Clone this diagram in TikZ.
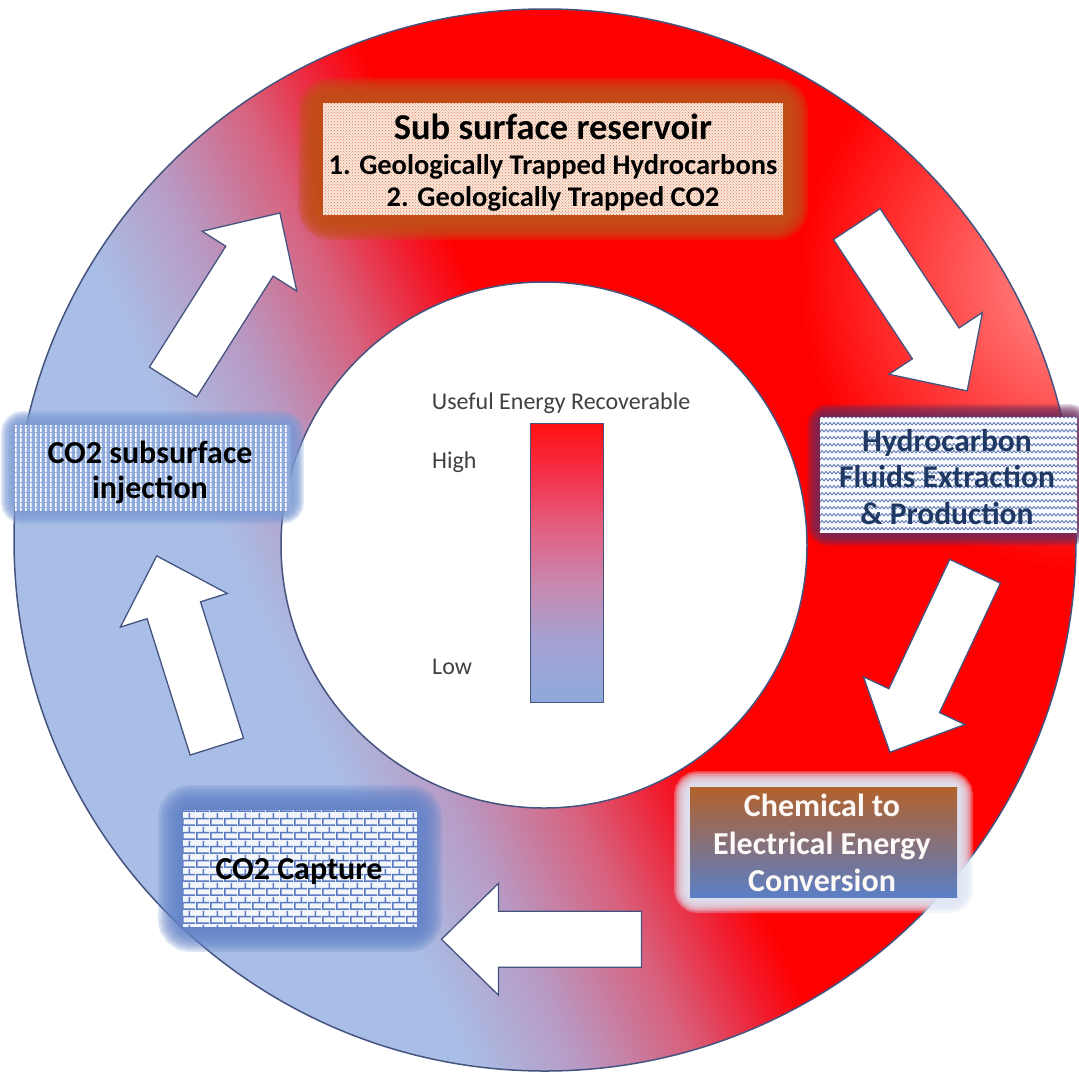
\documentclass[tikz,border=0pt]{standalone}
\usepackage{fontspec}
\setmainfont{Carlito}
\usetikzlibrary{patterns,fadings}

\definecolor{rblue}{HTML}{A9BEE6}
\definecolor{rpurple}{HTML}{B89AC4}
\definecolor{rpink}{HTML}{D8607C}
\definecolor{rred}{HTML}{F21A2C}
\definecolor{edgecol}{HTML}{45547F}
\definecolor{orgglow}{HTML}{C24E18}
\definecolor{peach}{HTML}{F9E6DA}
\definecolor{peachdot}{HTML}{DF7C52}
\definecolor{bglow}{HTML}{7D9BD5}
\definecolor{bfill}{HTML}{8EAADD}
\definecolor{mauve}{HTML}{6A2C5C}
\definecolor{wavecol}{HTML}{5673B2}
\definecolor{navy}{HTML}{1F3864}
\definecolor{lglow}{HTML}{DFE7F5}
\definecolor{brown}{HTML}{B3612B}
\definecolor{steel}{HTML}{5B7FC6}
\definecolor{bricklow}{HTML}{6282C8}
\definecolor{mortar}{HTML}{5A7BC4}
\definecolor{legtext}{HTML}{404040}
\definecolor{barA}{HTML}{8FA9DC}
\definecolor{barB}{HTML}{A4A2D2}
\definecolor{barC}{HTML}{C888B0}
\definecolor{barD}{HTML}{E26080}
\definecolor{barE}{HTML}{F43048}
\definecolor{barF}{HTML}{FF1010}

\pgfdeclarehorizontalshading{ringshade}{100bp}{color(0bp)=(rblue); color(36.3bp)=(rblue); color(41bp)=(rpurple); color(46bp)=(rpink); color(50bp)=(rred); color(52bp)=(red); color(100bp)=(red)}
\pgfdeclareverticalshading{barshade}{100bp}{color(0bp)=(barA); color(25bp)=(barA); color(36bp)=(barB); color(46bp)=(barC); color(56bp)=(barD); color(66bp)=(barE); color(75bp)=(barF); color(100bp)=(barF)}

\tikzfading[name=radfade, inner color=transparent!0, outer color=transparent!100]

\pgfdeclarepatternformonly{zigzag}{\pgfqpoint{-1pt}{-1pt}}{\pgfqpoint{9pt}{8pt}}{\pgfqpoint{8pt}{7pt}}{%
  \pgfsetlinewidth{0.8pt}%
  \pgfpathmoveto{\pgfqpoint{0pt}{1pt}}%
  \pgfpathlineto{\pgfqpoint{2pt}{3.5pt}}%
  \pgfpathlineto{\pgfqpoint{4pt}{1pt}}%
  \pgfpathlineto{\pgfqpoint{6pt}{3.5pt}}%
  \pgfpathlineto{\pgfqpoint{8pt}{1pt}}%
  \pgfusepath{stroke}}
\pgfdeclarepatternformonly{vstripes}{\pgfpointorigin}{\pgfqpoint{5pt}{5pt}}{\pgfqpoint{5pt}{5pt}}{%
  \pgfpathrectangle{\pgfqpoint{0pt}{0pt}}{\pgfqpoint{2pt}{5pt}}\pgfusepath{fill}}
\pgfdeclarepatternformonly{mybricks}{\pgfpointorigin}{\pgfqpoint{14pt}{14pt}}{\pgfqpoint{14pt}{14pt}}{%
  \pgfsetlinewidth{1.6pt}%
  \pgfpathmoveto{\pgfqpoint{0pt}{0.8pt}}\pgfpathlineto{\pgfqpoint{14pt}{0.8pt}}%
  \pgfpathmoveto{\pgfqpoint{0pt}{7.8pt}}\pgfpathlineto{\pgfqpoint{14pt}{7.8pt}}%
  \pgfpathmoveto{\pgfqpoint{1pt}{0pt}}\pgfpathlineto{\pgfqpoint{1pt}{7pt}}%
  \pgfpathmoveto{\pgfqpoint{8pt}{7pt}}\pgfpathlineto{\pgfqpoint{8pt}{14pt}}%
  \pgfusepath{stroke}}

\tikzset{
  blockarr/.style={fill=white, draw=edgecol, line width=1.3pt, line join=miter},
  boxnode/.style={inner sep=0pt, outer sep=0pt},
  boxtext/.style={align=center, inner sep=0pt, font=\bfseries\fontsize{32}{37.5}\selectfont},
  legend/.style={inner sep=0pt, text=legtext, font=\fontsize{24}{28}\selectfont},
}

\newcommand\blockarrow[3]{%
  \draw[blockarr, shift={(#1,#2)}, rotate=#3]
    (-100,-28) -- (43,-28) -- (43,-56) -- (100,0) -- (43,56) -- (43,28) -- (-100,28) -- cycle;}

\newcommand\glow[4]{% color, opacity per layer, step, node
  \foreach \k in {1,...,10}{%
    \draw[#1, line width=\k*#3, opacity=#2, rounded corners=8pt] (#4.south west) rectangle (#4.north east);}}

\begin{document}
\begin{tikzpicture}[x=1pt,y=1pt]
\useasboundingbox (0,0) rectangle (1079,-1077);
\clip (0,0) rectangle (1079,-1077);
\fill[white] (0,0) rectangle (1079,-1077);

\coordinate (oc) at (545,-540);
\coordinate (ic) at (544,-545);

% ring
\shade[shading=ringshade, shading angle=25, even odd rule]
  (oc) circle[radius=531] (ic) circle[radius=263];
\begin{scope}
  \clip (oc) circle[radius=531];
  \fill[white, path fading=radfade, fill opacity=.6] (1090,-280) circle[radius=290];
\end{scope}
\fill[white] (ic) circle[radius=263];
\draw[edgecol, line width=1.5pt] (oc) circle[radius=531];
\draw[edgecol, line width=1.5pt] (ic) circle[radius=263];

% block arrows
\blockarrow{226.5}{-297.5}{57.7}
\blockarrow{912}{-307.5}{-56.5}
\blockarrow{932.5}{-661.75}{-115.2}
\blockarrow{541.5}{-939.25}{180}
\blockarrow{186.75}{-651.25}{107.5}

% top box
\node[boxnode, minimum width=460pt, minimum height=112pt] (res) at (553,-159) {};
\glow{orgglow}{.3}{5pt}{res}
\fill[peach] (res.south west) rectangle (res.north east);
\fill[pattern=crosshatch dots, pattern color=peachdot] (res.south west) rectangle (res.north east);
\node[inner sep=0pt, anchor=base, font=\bfseries\fontsize{36.5}{40}\selectfont] (resT) at (553,-139) {Sub surface reservoir};
\node[inner sep=0pt, anchor=base, font=\bfseries\fontsize{28.5}{32}\selectfont] (resA) at (553,-174) {1. Geologically Trapped Hydrocarbons};
\node[inner sep=0pt, anchor=base, font=\bfseries\fontsize{28.5}{32}\selectfont] (resB) at (553,-206) {2. Geologically Trapped CO2};

% left box
\node[boxnode, minimum width=275pt, minimum height=85pt] (inj) at (152.5,-467.5) {};
\glow{bglow}{.22}{2.8pt}{inj}
\fill[bfill] (inj.south west) rectangle (inj.north east);
\fill[pattern=vstripes, pattern color=white] (inj.south west) rectangle (inj.north east);
\node[boxtext, font=\bfseries\fontsize{32}{35}\selectfont] (injT) at (150,-472) {CO2 subsurface\\injection};

% right box
\node[boxnode, minimum width=257pt, minimum height=116pt] (ext) at (948.5,-475) {};
\glow{mauve}{.18}{2.6pt}{ext}
\fill[white!96!wavecol] (ext.south west) rectangle (ext.north east);
\fill[pattern=zigzag, pattern color=wavecol] (ext.south west) rectangle (ext.north east);
\node[boxtext, text=navy, font=\bfseries\fontsize{31.5}{36.5}\selectfont] (extT) at (947,-477) {Hydrocarbon\\Fluids Extraction\\\& Production};

% bottom right box
\node[boxnode, minimum width=267pt, minimum height=110pt] (conv) at (823.5,-842) {};
\glow{lglow}{.3}{3.2pt}{conv}
\shade[top color=brown, bottom color=steel, middle color=brown!50!steel] (conv.south west) rectangle (conv.north east);
\node[boxtext, text=white!96!brown] (convT) at (822,-843) {Chemical to\\Electrical Energy\\Conversion};

% bottom left box
\node[boxnode, minimum width=234pt, minimum height=117pt] (cap) at (300,-868.5) {};
\glow{bricklow}{.22}{5pt}{cap}
\fill[white!92!mortar] (cap.south west) rectangle (cap.north east);
\fill[pattern=mybricks, pattern color=mortar] (cap.south west) rectangle (cap.north east);
\node[boxtext] (capT) at (299,-872) {CO2 Capture};

% legend
\node[legend] (legT) at (561,-403) {Useful Energy Recoverable};
\node[boxnode, minimum width=73pt, minimum height=279pt] (bar) at (566.5,-562.5) {};
\shade[shading=barshade] (bar.south west) rectangle (bar.north east);
\draw[edgecol, line width=1pt] (bar.south west) rectangle (bar.north east);
\node[legend, anchor=west] (legH) at (432,-462) {High};
\node[legend, anchor=west] (legL) at (432,-667) {Low};
\end{tikzpicture}
\end{document}
